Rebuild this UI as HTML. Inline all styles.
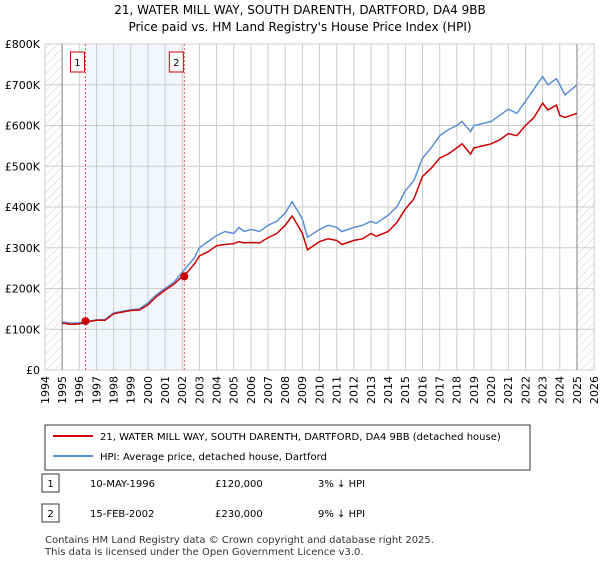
<!DOCTYPE html>
<html><head><meta charset="utf-8"><style>
body{margin:0;background:#fff;font-family:"DejaVu Sans","Liberation Sans",sans-serif;}
text{font-family:"DejaVu Sans","Liberation Sans",sans-serif;}
</style></head><body>
<svg id="c" width="600" height="560" xmlns="http://www.w3.org/2000/svg">
<defs><pattern id="h" width="6" height="6" patternUnits="userSpaceOnUse" patternTransform="rotate(45)"><line x1="0" y1="0" x2="0" y2="6" stroke="#ccc" stroke-width="1"/></pattern></defs>
<text x="300" y="14" text-anchor="middle" font-size="12">21, WATER MILL WAY, SOUTH DARENTH, DARTFORD, DA4 9BB</text>
<text x="300" y="31" text-anchor="middle" font-size="12">Price paid vs. HM Land Registry's House Price Index (HPI)</text>
<g id="plot"></g>
<g>
<rect x="45" y="425" width="485" height="45" fill="#fff" stroke="#333"/>
<line x1="53" y1="436" x2="93" y2="436" stroke="#cc0000" stroke-width="2"/>
<text x="100" y="440" font-size="10">21, WATER MILL WAY, SOUTH DARENTH, DARTFORD, DA4 9BB (detached house)</text>
<line x1="53" y1="456" x2="93" y2="456" stroke="#5b8fd6" stroke-width="2"/>
<text x="100" y="460" font-size="10">HPI: Average price, detached house, Dartford</text>
</g>
<g font-size="10">
<rect x="42" y="474" width="17" height="18" fill="#fff" stroke="#333"/><text x="50.5" y="487" text-anchor="middle">1</text>
<text x="90" y="487">10-MAY-1996</text><text x="215" y="487">£120,000</text><text x="318" y="487">3% ↓ HPI</text>
<rect x="42" y="504" width="17" height="18" fill="#fff" stroke="#333"/><text x="50.5" y="517" text-anchor="middle">2</text>
<text x="90" y="517">15-FEB-2002</text><text x="215" y="517">£230,000</text><text x="318" y="517">9% ↓ HPI</text>
</g>
<text x="45" y="543" font-size="10" fill="#333">Contains HM Land Registry data © Crown copyright and database right 2025.</text>
<text x="45" y="555" font-size="10" fill="#333">This data is licensed under the Open Government Licence v3.0.</text>
</svg>
<script>
const years=[1994,1995,1996,1997,1998,1999,2000,2001,2002,2003,2004,2005,2006,2007,2008,2009,2010,2011,2012,2013,2014,2015,2016,2017,2018,2019,2020,2021,2022,2023,2024,2025,2026];
const yTicks=[0,100,200,300,400,500,600,700,800];
const yLabels=["£0","£100K","£200K","£300K","£400K","£500K","£600K","£700K","£800K"];
const hpiT=[1995,1995.5,1996,1996.4,1997,1997.5,1998,1999,1999.5,2000,2000.5,2001,2001.5,2002,2002.3,2002.7,2003,2003.5,2004,2004.5,2005,2005.3,2005.6,2006,2006.5,2007,2007.5,2008,2008.4,2008.8,2009,2009.3,2010,2010.5,2011,2011.3,2012,2012.5,2013,2013.3,2014,2014.5,2015,2015.5,2016,2016.5,2017,2017.5,2018,2018.3,2018.8,2019,2019.5,2020,2020.5,2021,2021.5,2022,2022.5,2023,2023.3,2023.8,2024,2024.3,2025];
const hpiV=[118,115,116,118,123,124,140,148,150,165,185,200,215,240,255,275,300,315,330,340,335,350,340,345,340,355,365,385,413,385,370,326,345,355,350,340,350,355,365,360,380,400,440,465,520,545,575,590,600,610,585,600,605,610,625,640,630,660,690,720,700,715,700,675,700];
const redV=[115,112,113,118,122,122,138,146,147,160,180,196,210,230,240,260,280,290,305,308,310,315,312,313,312,325,335,355,378,350,335,295,315,322,318,308,318,322,335,328,340,362,395,420,475,495,520,530,545,555,530,545,550,555,565,580,575,600,620,655,638,650,625,620,630];
const sales=[[1996.36,120],[2002.12,230]];
const X=t=>45+(t-1994)*17.16, Y=v=>370-v*0.4075;
const g=document.getElementById('plot'),NS='http://www.w3.org/2000/svg';
function mk(tag,a,name){const e=document.createElementNS(NS,tag);for(const k in a)e.setAttribute(k,a[k]);


g.appendChild(e);return e;}
mk('rect',{x:X(1996.36),y:Y(800),width:X(2002.12)-X(1996.36),height:Y(0)-Y(800),fill:'#eef3fc',opacity:0.7},'sale-period-band');
mk('rect',{x:X(1994),y:Y(800),width:X(1995)-X(1994),height:Y(0)-Y(800),fill:'url(#h)'},'hatch-before');
mk('rect',{x:X(2025),y:Y(800),width:X(2026)-X(2025),height:Y(0)-Y(800),fill:'url(#h)'},'hatch-after');
years.forEach((y,i)=>{mk('line',{x1:X(y),x2:X(y),y1:Y(0),y2:Y(800),stroke:'#ccc'},'x-grid');
const t=mk('text',{x:X(y),y:Y(0)+6,'font-size':11,'text-anchor':'end',transform:`rotate(-90 ${X(y)} ${Y(0)+6})`,dy:'0.35em'},'x-tick-label');t.textContent=y;});
yTicks.forEach((v,i)=>{mk('line',{x1:X(1994),x2:X(2026),y1:Y(v),y2:Y(v),stroke:'#ccc'},'y-grid');
const t=mk('text',{x:40,y:Y(v)+4,'font-size':11,'text-anchor':'end'},'y-tick-label');t.textContent=yLabels[i];});
mk('line',{x1:X(1995),x2:X(1995),y1:Y(0),y2:Y(800),stroke:'#888'},'data-start-line');
mk('line',{x1:X(2025),x2:X(2025),y1:Y(0),y2:Y(800),stroke:'#888'},'data-end-line');
sales.forEach((s,i)=>{mk('line',{x1:X(s[0]),x2:X(s[0]),y1:Y(0),y2:Y(800),stroke:'#e55','stroke-dasharray':'2,2'},'sale-marker-line');
mk('rect',{x:X(s[0])-15,y:52,width:14,height:20,fill:'#fff',stroke:'#c00'},'sale-label-box');
const t=mk('text',{x:X(s[0])-8,y:66,'font-size':10,'text-anchor':'middle'},'sale-label');t.textContent=i+1;});
const pts=v=>hpiT.map((t,i)=>X(t).toFixed(1)+','+Y(v[i]).toFixed(1)).join(' ');
mk('polyline',{points:pts(hpiV),fill:'none',stroke:'#5b8fd6','stroke-width':1.5},'hpi-line');
mk('polyline',{points:pts(redV),fill:'none',stroke:'#cc0000','stroke-width':1.5},'property-line');
sales.forEach(s=>mk('circle',{cx:X(s[0]),cy:Y(s[1]),r:4,fill:'#cc0000'},'sale-point'));
</script>
</body></html>
